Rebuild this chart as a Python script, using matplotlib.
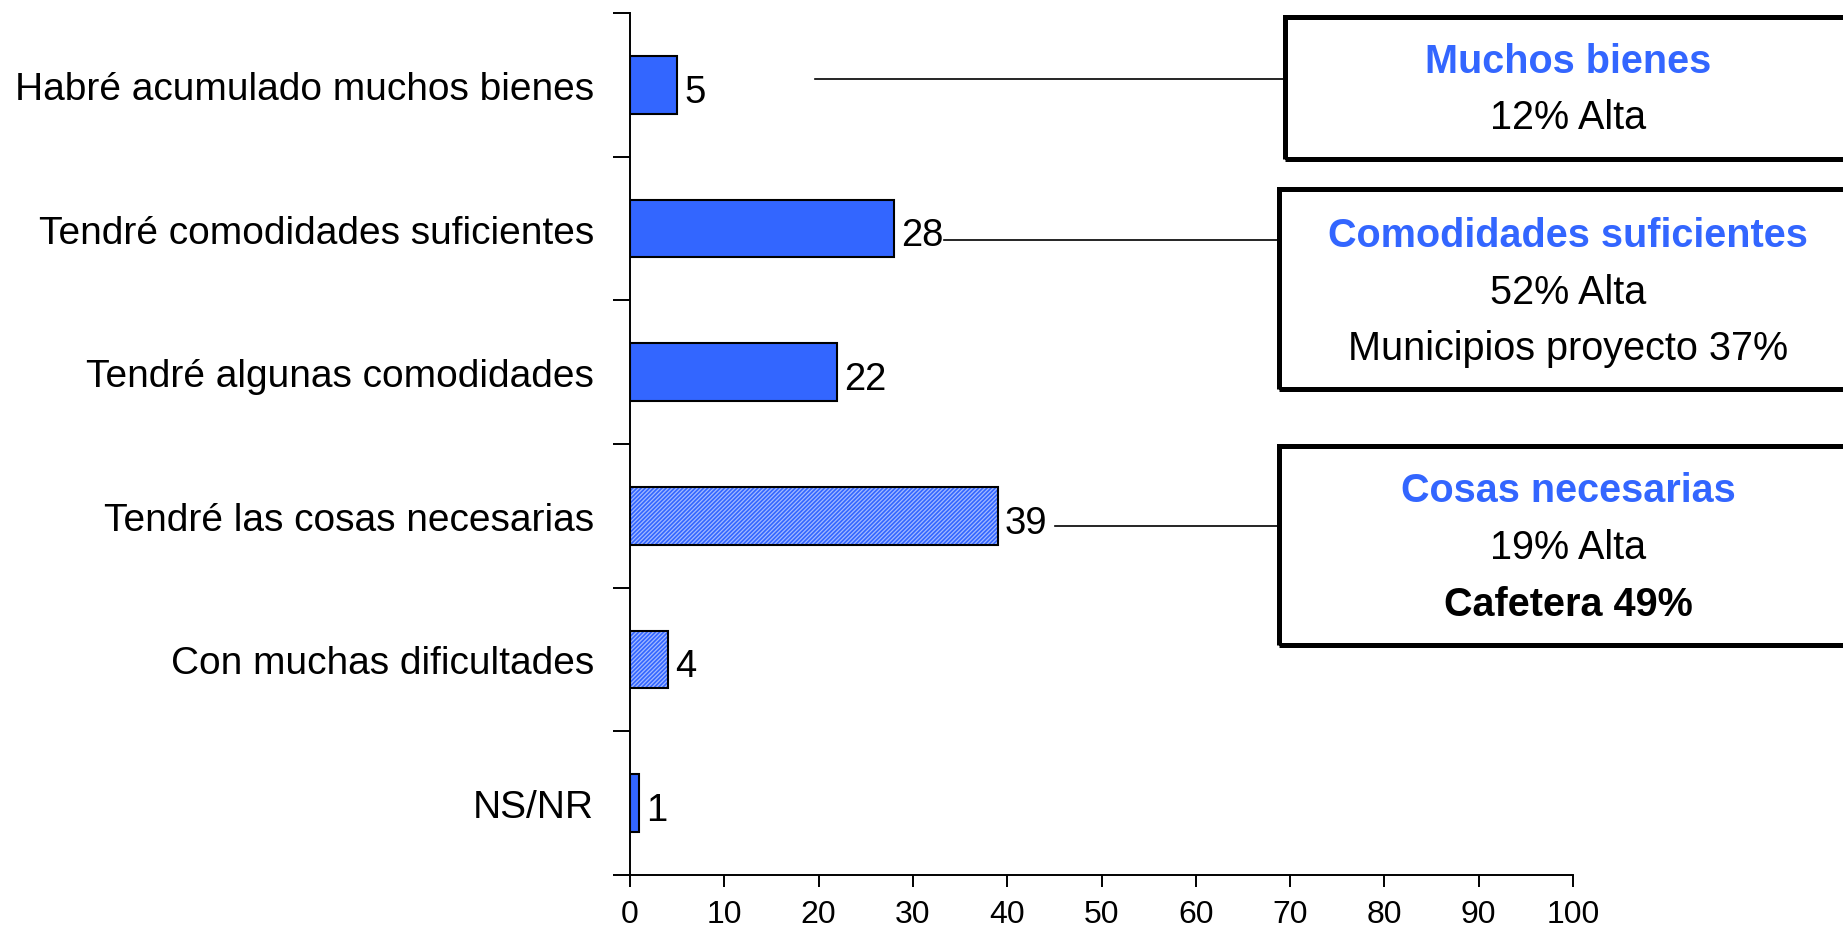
import matplotlib
matplotlib.use('Agg')
import matplotlib.pyplot as plt
from matplotlib.patches import Rectangle
import numpy as np

plt.rcParams['font.family'] = ['Liberation Sans Narrow', 'Liberation Sans', 'DejaVu Sans']
plt.rcParams['hatch.linewidth'] = 1.2

categorias = ['Habré acumulado muchos bienes', 'Tendré comodidades suficientes',
              'Tendré algunas comodidades', 'Tendré las cosas necesarias',
              'Con muchas dificultades', 'NS/NR']
valores = [5, 28, 22, 39, 4, 1]
rayadas = [False, False, False, True, True, False]
xticks = list(range(0, 101, 10))

# notas de la derecha: (titulo, lineas, ultima en negrita)
notas = [
    ('Muchos bienes', ['12% Alta'], False),
    ('Comodidades suficientes', ['52% Alta', 'Municipios proyecto 37%'], False),
    ('Cosas necesarias', ['19% Alta', 'Cafetera 49%'], True),
]

azul = '#3366FF'
W, H = 1843, 928
fig = plt.figure(figsize=(W / 100, H / 100), dpi=100)
ax = fig.add_axes([630 / W, 1 - 876 / H, (1573 - 630) / W, (876 - 14) / H])

y = np.arange(len(categorias))
for i, (v, r) in enumerate(zip(valores, rayadas)):
    if r:
        ax.barh(y[i], v, height=0.4, color='#A3B9FF', edgecolor=azul,
                hatch='////////', linewidth=0)
        ax.barh(y[i], v, height=0.4, color='none', edgecolor='black', linewidth=1.5)
    else:
        ax.barh(y[i], v, height=0.4, color=azul, edgecolor='black', linewidth=1.5)
    ax.annotate(str(v), (v, y[i]), xytext=(5, -5), textcoords='offset points',
                ha='left', va='center', fontsize=27.5)

ax.set_xlim(0, 100)
ax.set_ylim(len(categorias) - 0.5, -0.5)
ax.set_xticks(xticks)
ax.set_xticklabels([str(t) for t in xticks], fontsize=23)
ax.set_yticks(y)
ax.set_yticklabels(categorias, fontsize=28)
ax.set_yticks(np.arange(len(categorias) + 1) - 0.5, minor=True)
ax.tick_params(axis='y', which='major', length=0, pad=26)
ax.tick_params(axis='y', which='minor', length=12, width=1.4, direction='out')
ax.tick_params(axis='x', length=8.5, width=1.4, pad=9)
for s in ['top', 'right']:
    ax.spines[s].set_visible(False)
for s in ['left', 'bottom']:
    ax.spines[s].set_linewidth(1.4)

# cajas de notas (en pixeles de figura)
cajas = [(1285, 18, 160), (1279, 190, 390), (1279, 447, 646)]
lineas_y = [[53, 100], [201, 249, 297], [418, 466, 515]]
for (x0, t, b), (tit, lineas, neg), ly in zip(cajas, notas, lineas_y):
    fig.patches.append(Rectangle((x0 / W, 1 - b / H), (1880 - x0) / W, (b - t) / H,
                                 transform=fig.transFigure, fill=False,
                                 edgecolor='black', linewidth=3.6, clip_on=False))
    cx = 1568 / W
    fig.text(cx, 1 - ly[0] * 1.1754 / H, tit, ha='center', va='center',
             fontsize=28.5, fontweight='bold', color=azul)
    for j, l in enumerate(lineas):
        bold = neg and j == len(lineas) - 1
        fig.text(cx, 1 - ly[j + 1] * 1.1754 / H, l, ha='center', va='center',
                 fontsize=28.5, fontweight='bold' if bold else 'normal', color='black')

# lineas conectoras
conex = [(0, 19.6, -0.04), (1, 33.3, 1.08), (3, 45.1, 3.07)]
for (k, x0, yy), (xb, _, _) in zip(conex, cajas):
    xe = (xb - 630) / ((1573 - 630) / 100)
    ax.plot([x0, xe], [yy, yy], color='black', linewidth=1.2, clip_on=False)

fig.savefig('out.png', dpi=100)
